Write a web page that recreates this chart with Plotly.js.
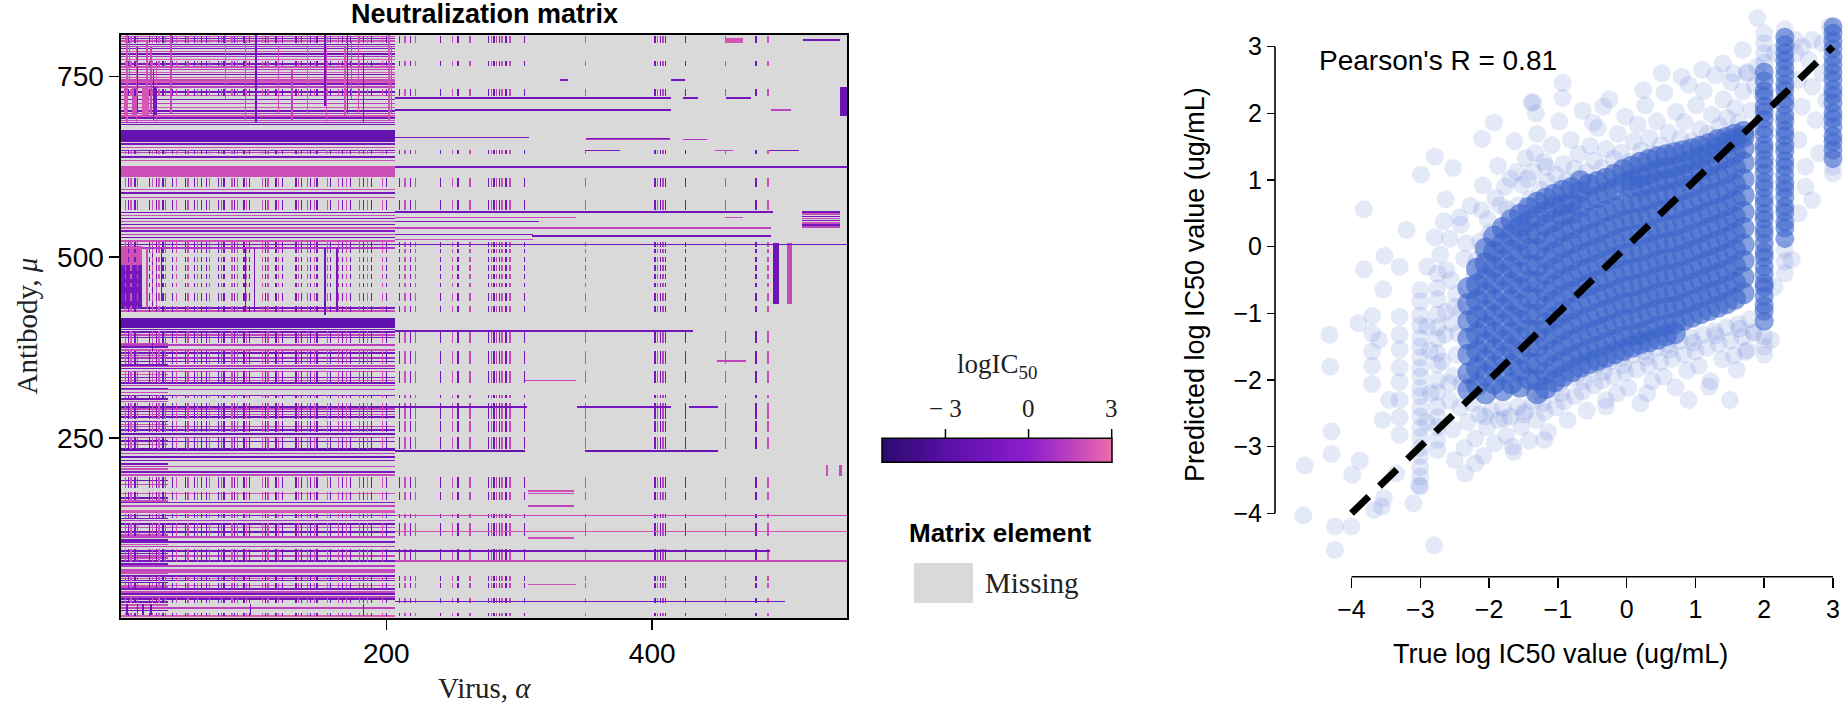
<!DOCTYPE html>
<html><head><meta charset="utf-8">
<script src="https://cdn.plot.ly/plotly-3.0.1.min.js"></script>
<style>html,body{margin:0;padding:0;background:#fff}#chart{width:1847px;height:707px}</style>
</head><body><div id="chart"></div>
<script>
// ---------------- Neutralization matrix (antibody x virus) ----------------
const nVirus = 546;
const nAntibody = 807;
const panelEnd = 206;   // viruses measured against the full antibody panel
const leftEnd = 35;     // early viruses with denser coverage
const logIC50Min = -5.3, logIC50Max = 3.0;
const colorTicks = [-3, 0, 3];
const colorTickText = ['\u2212 3', '0', '3'];
const virusTicks = [200, 400];
const antibodyTicks = [250, 500, 750];

// thick bands across the panel: [antibodyFrom, antibodyTo, logIC50]
const panelBands = [[403,415,-2.6],[660,676,-2.3],[612,626,2.0],[63,68,1.8],[232,236,-2.4]];
// single antibodies measured across the panel: [antibody, logIC50]
const panelLines = [[805,2.2],[802,-1.2],[799,2.0],[794,-1.5],[791,1.5],[788,-1.0],[784,2.2],[781,-1.8],[777,1.0],[773,2.4],[767,-1.2],[763,2.0],[759,1.2],[755,2.3],[752,-1.5],[748,2.2],[745,1.8],[742,2.4],[739,-0.8],[735,1.5],[728,-1.6],[723,2.0],[718,-1.2],[712,1.6],[707,2.2],[702,-1.8],[698,1.0],[695,2.2],[692,-1.4],[689,1.8],[686,0.5],[683,-1.6],
[656,-1.2],[651,2.0],[647,-1.0],[644,1.5],[638,-1.5],[633,2.0],[593,2.0],[588,-1.5],[582,1.6],[561,-1.8],[557,2.0],[553,-1.2],[549,1.8],[545,-1.5],[540,2.2],[536,-0.8],[531,1.6],[527,-1.8],[522,2.0],[517,-1.5],[512,1.2],[429,-1.4],[425,1.8],
[399,-1.5],[396,-1.8],[392,1.6],[388,-1.0],[378,1.4],[371,2.0],[367,-1.4],[360,1.0],[355,-1.8],[349,1.6],[345,-1.2],[341,2.0],[333,-1.0],[329,2.2],[325,-1.6],[322,1.6],[316,1.0],[308,-1.2],[292,-2.0],[289,1.8],[286,-1.6],[282,2.2],[278,-1.8],[265,1.4],[260,-1.0],[255,-1.8],[250,1.6],[244,-1.0],[228,1.5],[223,-1.8],[218,-1.2],[210,1.6],[202,-1.0],[198,1.8],[172,2.2],[160,-1.0],[155,1.6],[149,2.4],[147,2.2],[142,-1.4],[135,1.2],[130,-1.6],[125,1.8],[119,-1.4],[112,1.6],[105,-1.2],[99,1.4],[93,-1.8],[86,1.6],[79,-1.4],[72,1.2],[58,-1.2],[55,2.0],[52,-1.4],[45,2.2],[40,-1.0],[36,1.8],[33,-1.6],[29,1.4],[26,-1.8],[14,1.6],[3,2.4]];
// extra antibodies for the early viruses only: [antibody, logIC50]
const leftLines = [[380,2.0],[375,-1.4],[363,1.8],[350,-1.2],[337,2.2],[318,-1.6],[312,1.8],[303,-1.2],[300,2.0],[272,-1.4],[268,2.0],[246,-1.6],[240,1.8],[213,-1.2],[206,2.0],[190,-1.6],[185,1.8],[166,-1.4],[162,2.0],[138,-1.2],[115,1.8],[108,-1.6],[102,2.0],[89,-1.4],[83,1.8],[75,-1.2],[62,2.0],[49,-1.6],[43,1.8],[22,-1.4],[18,2.0],[10,-1.2]];
// single viruses measured over a range of antibodies: [virus, antibodyFrom, antibodyTo, logIC50]
const panelVerticals = [[5,688,807,2.2],[7,740,800,2.0],[12,688,790,2.2],[13,700,790,-1.5],[20,695,800,2.0],[23,700,790,1.8],[25,690,760,-1.2],[27,688,770,2.2],[38,700,807,1.8],[79,720,807,2.2],[94,690,800,2.0],[102,688,807,-1.4],[119,700,790,2.0],[129,690,760,1.6],[141,700,807,2.2],[154,710,807,-1.6],[155,688,790,2.0],[169,695,790,2.2],[171,700,807,-1.4],[174,720,800,1.8],[179,700,807,2.0],[183,688,780,-1.6],[202,690,807,2.2],[204,700,790,1.8],
[94,425,512,-1.8],[101,425,512,-1.6],[154,420,512,-1.8],[163,425,512,-1.4],[20,430,512,2.0],[24,430,512,-1.4],[27,430,500,2.2],[31,440,512,-1.2],[4,430,489,2.0],[9,430,489,2.2],
[5,5,19,-2.0],[13,5,19,-2.0],[17,5,19,-1.8],[23,5,19,-2.0],[98,5,19,-1.8],[183,5,19,-1.8],[24,355,385,-1.8]];
// rectangular blocks: [antibodyFrom, antibodyTo, virusFrom, virusTo, logIC50]
const blocks = [[697,735,3,5,2.2],[697,735,9,12,2.0],[697,735,17,21,2.3],[697,735,25,27,-1.3],
[490,515,1,16,2.1],[430,489,1,16,-1.3],
[696,735,542,546,-2.0],[436,519,491,495,-1.8],[436,519,502,505,1.8],[197,212,531,532,2.0],[197,212,541,542,1.8],[797,803,455,468,2.2],[800,802,514,541,-1.4]];
// antibody ranges assayed only against a spot-check subset of viruses
const stripeBands = [[797,806],[765,771],[724,732],[643,648],[598,609],[566,579],[515,521],[506,511],[494,500],[482,488],[470,476],[459,464],[440,450],[425,432],[381,397],[353,370],[326,342],[306,309],[276,297],[258,272],[235,250],[181,195],[165,174],[140,144],[114,132],[79,95],[52,58],[43,48],[22,27],[4,7]];
// spot-check viruses: [virus, logIC50]
const stripeViruses = [[4,2.0],[6,-1.5],[8,2.2],[11,-1.2],[13,1.8],[22,-1.6],[24,2.0],[27,-1.4],[29,2.2],[32,-1.8],[34,1.6],[39,-1.5],[42,2.0],[49,-1.6],[51,1.8],[56,-1.4],[58,2.2],[61,-1.2],[65,-1.8],[67,2.0],[74,-1.5],[76,1.6],[78,-1.8],[84,2.0],[86,-1.4],[88,1.8],[93,-1.6],[95,2.2],[97,-1.2],[107,2.0],[109,-1.6],[111,1.8],[117,-1.4],[119,2.2],[122,-1.8],[132,-1.5],[134,2.0],[136,-1.2],[141,1.8],[143,-1.6],[146,2.0],[148,-1.4],[156,2.2],[158,-1.6],[164,1.8],[167,-1.5],[170,2.0],[173,-1.8],[180,1.6],[183,-1.4],[186,2.2],[189,-1.6],[197,2.0],[200,-1.5],
[210,-1.4],[214,2.0],[218,-1.2],[222,1.8],[241,-1.6],[250,2.0],[254,-1.4],[263,1.8],[277,-1.5],[279,2.2],[281,-1.8],[283,1.6],[285,-1.2],[287,2.0],[290,-1.6],[293,1.8],[304,-1.4],[350,2.0],[402,-1.5],[404,2.2],[406,-1.8],[408,1.6],[410,-1.2],[425,-1.8],[455,1.8],[478,-1.4],[487,2.0]];
// antibodies measured across the later viruses: [antibody, virusFrom, virusTo, logIC50]
const longLines = [[720,207,414,-1.6],[720,424,434,-1.4],[720,456,474,-1.2],[703,207,414,-1.8],[703,490,504,1.6],[665,207,307,-1.2],[662,351,413,1.4],[664,351,413,-1.4],[662,424,441,1.2],[647,350,375,-1.2],[647,448,460,1.6],[647,488,510,-1.4],[745,331,336,-1.0],[745,415,424,-1.4],
[624,207,546,-1.4],[562,207,490,-1.6],[554,207,342,1.8],[554,455,468,2.0],[549,207,314,-1.4],[540,207,489,1.6],[531,207,310,-1.2],[529,310,489,-1.6],[524,207,310,1.8],[517,207,546,-1.5],
[562,513,541,-1.6],[559,513,541,2.0],[556,513,541,-1.4],[553,513,541,1.8],[550,513,541,-1.2],[547,513,541,2.0],[544,513,541,-1.5],[541,513,541,1.6],
[397,207,430,-1.4],[356,449,470,1.6],[329,305,342,1.8],[292,207,305,-1.6],[292,344,414,-1.4],[292,428,449,-1.2],[231,207,304,-2.2],[231,350,449,-2.0],
[176,307,341,2.0],[172,307,341,1.8],[155,307,341,1.6],[142,207,546,1.8],[120,207,546,2.2],[111,307,341,2.0],[93,207,488,-1.6],[79,207,546,1.8],[46,307,342,2.0],[23,207,499,-1.4]];

// ---------------- Prediction scatter ----------------
const xTicks = [-4,-3,-2,-1,0,1,2,3];
const yTicks = [-4,-3,-2,-1,0,1,2,3];
const identityLine = [-4, 3];
const pearsonR = 0.81;
// dense core: true value and the predicted values stacked at it
const coreTrue = [-2.3,-2.175,-2.05,-1.925,-1.8,-1.675,-1.55,-1.425,-1.3,-1.175,-1.05,-0.925,-0.8,-0.675,-0.55,-0.425,-0.3,-0.175,-0.05,0.075,0.2,0.325,0.45,0.575,0.7,0.825,0.95,1.075,1.2,1.325,1.45,1.575,1.7];
const corePred = [
[-2.15,-1.9,-1.62,-1.38,-1.12,-0.86,-0.62],
[-2.08,-1.82,-1.57,-1.31,-1.06,-0.8,-0.57,-0.33],
[-2.2,-1.93,-1.7,-1.44,-1.2,-0.96,-0.7,-0.47,-0.25,-0.03],
[-2.05,-1.8,-1.54,-1.29,-1.04,-0.8,-0.55,-0.31,-0.08,0.15],
[-2.15,-1.9,-1.66,-1.41,-1.17,-0.92,-0.68,-0.43,-0.2,0.05,0.28],
[-2.05,-1.78,-1.53,-1.29,-1.04,-0.8,-0.55,-0.31,-0.06,0.18,0.4],
[-2.1,-1.86,-1.6,-1.37,-1.11,-0.88,-0.62,-0.39,-0.13,0.1,0.3,0.48],
[-1.98,-1.75,-1.5,-1.25,-1.01,-0.76,-0.52,-0.27,-0.03,0.2,0.38,0.58],
[-2.2,-2.0,-1.76,-1.5,-1.27,-1.02,-0.78,-0.53,-0.29,-0.04,0.2,0.45,0.66],
[-2.12,-1.9,-1.64,-1.39,-1.15,-0.9,-0.66,-0.41,-0.17,0.08,0.32,0.52,0.72],
[-2.02,-1.8,-1.56,-1.31,-1.07,-0.82,-0.58,-0.33,-0.09,0.15,0.38,0.6,0.78],
[-1.94,-1.72,-1.48,-1.23,-0.99,-0.74,-0.5,-0.25,-0.01,0.24,0.46,0.63,0.84],
[-1.87,-1.65,-1.41,-1.16,-0.93,-0.68,-0.44,-0.2,0.05,0.28,0.5,0.66,0.88],
[-1.8,-1.6,-1.35,-1.11,-0.86,-0.62,-0.37,-0.13,0.11,0.36,0.6,0.82,0.98],
[-1.75,-1.55,-1.3,-1.06,-0.81,-0.57,-0.33,-0.08,0.17,0.42,0.7,0.93],
[-1.7,-1.5,-1.25,-1.01,-0.76,-0.52,-0.27,-0.02,0.22,0.47,0.74,0.97],
[-1.65,-1.45,-1.2,-0.96,-0.71,-0.47,-0.22,0.03,0.28,0.53,0.8,1.02],
[-1.6,-1.4,-1.16,-0.91,-0.67,-0.42,-0.17,0.08,0.33,0.58,0.86,1.08],
[-1.55,-1.35,-1.1,-0.86,-0.61,-0.36,-0.12,0.13,0.38,0.63,0.95,1.15],
[-1.5,-1.33,-1.08,-0.84,-0.59,-0.34,-0.09,0.16,0.41,0.66,0.9,1.0,1.2],
[-1.45,-1.3,-1.05,-0.8,-0.56,-0.31,-0.07,0.18,0.43,0.67,0.9,1.05,1.26],
[-1.42,-1.25,-1.0,-0.76,-0.51,-0.27,-0.02,0.22,0.47,0.71,0.94,1.1,1.3],
[-1.38,-1.2,-0.95,-0.71,-0.46,-0.22,0.03,0.27,0.52,0.76,0.98,1.15,1.34],
[-1.33,-1.17,-0.92,-0.68,-0.43,-0.19,0.06,0.3,0.55,0.79,1.0,1.18,1.37],
[-1.3,-1.15,-0.9,-0.66,-0.41,-0.17,0.08,0.32,0.57,0.81,1.03,1.2,1.4],
[-1.1,-0.86,-0.61,-0.37,-0.12,0.12,0.37,0.61,0.86,1.08,1.25,1.43],
[-1.05,-0.81,-0.56,-0.32,-0.07,0.17,0.42,0.66,0.91,1.12,1.3,1.46],
[-1.0,-0.76,-0.51,-0.27,-0.02,0.22,0.47,0.71,0.96,1.17,1.35,1.5],
[-0.95,-0.7,-0.46,-0.21,0.03,0.28,0.52,0.77,1.01,1.22,1.4,1.54],
[-0.9,-0.66,-0.41,-0.17,0.08,0.32,0.57,0.81,1.06,1.28,1.48,1.6],
[-0.85,-0.6,-0.36,-0.11,0.13,0.38,0.62,0.87,1.11,1.34,1.55,1.63],
[-0.78,-0.54,-0.29,-0.05,0.2,0.44,0.69,0.93,1.18,1.4,1.6,1.68],
[-0.7,-0.46,-0.21,0.03,0.28,0.52,0.77,1.01,1.26,1.48,1.65,1.72]];
// censored true values (vertical stacks)
const stackTrue = [2.0, 2.3, 3.0];
const stackPred = [
[-1.12,-0.97,-0.88,-0.74,-0.61,-0.55,-0.41,-0.3,-0.16,-0.08,0.05,0.19,0.27,0.41,0.5,0.64,0.73,0.88,0.97,1.1,1.22,1.31,1.45,1.53,1.68,1.77,1.91,2.02,2.11,2.26,2.34,2.49,2.62],
[0.12,0.28,0.37,0.52,0.6,0.74,0.86,0.95,1.08,1.2,1.29,1.43,1.52,1.66,1.75,1.88,1.97,2.12,2.21,2.35,2.44,2.57,2.68,2.8,2.91,3.03,3.14],
[1.32,1.45,1.57,1.66,1.8,1.92,2.01,2.15,2.27,2.36,2.5,2.61,2.73,2.84,2.97,3.08,3.2,3.3]];
// lighter, spread-out points: [true, predicted]
const spreadPts = [
[-3.0,-0.65],[-3.0,-0.82],[-3.0,-1.03],[-3.0,-1.18],[-3.0,-1.37],[-3.0,-1.5],[-3.0,-1.66],[-3.0,-1.82],[-3.0,-1.95],[-3.0,-2.12],[-3.0,-2.24],[-3.0,-2.41],[-3.0,-2.55],[-3.0,-2.72],[-3.0,-2.86],[-3.0,-3.02],[-3.0,-3.14],[-3.0,-3.31],[-3.0,-3.45],[-3.0,-3.6],
[-2.75,-0.4],[-2.75,-0.62],[-2.75,-0.79],[-2.75,-1.02],[-2.75,-1.21],[-2.75,-1.38],[-2.75,-1.6],[-2.75,-1.77],[-2.75,-2.01],[-2.75,-2.18],[-2.75,-2.4],[-2.75,-2.56],[-2.75,-2.71],[-2.75,-2.9],[-2.75,-3.05],
[-3.3,-1.05],[-3.3,-1.32],[-3.3,-1.54],[-3.3,-1.81],[-3.3,-2.03],[-3.3,-2.3],[-3.3,-2.56],[-3.3,-2.82],
[-3.7,-1.04],[-3.7,-1.3],[-3.7,-1.57],[-3.7,-1.79],[-3.7,-2.06],
[-3.82,0.56],[-3.82,-0.34],[-3.54,-0.64],[-3.52,-0.14],[-3.9,-1.15],[-4.32,-1.32],[-4.31,-1.8],[-4.29,-2.77],[-4.29,-3.11],[-4.68,-3.28],[-4.7,-4.03],[-4.24,-4.2],[-4.0,-4.2],[-4.24,-4.55],[-3.99,-3.42],[-3.88,-3.21],[-3.67,-3.95],[-3.53,-3.77],[-3.56,-3.9],[-3.02,-3.58],[-2.8,-4.48],[-1.66,-3.0],[-2.99,1.08],[-2.79,1.35],[-2.63,0.71],[-2.52,1.18],[-2.43,0.44],[-2.79,0.14],[-3.2,0.25],[-3.3,-0.3],[-2.1,1.62],[-1.93,1.86],[-1.38,2.16],[-1.32,2.0],[-0.93,2.46],[-0.93,2.23],[-1.36,2.17],[-0.49,1.86],[0.51,2.6],[0.24,2.35],[-0.34,2.1],[1.9,3.43],[1.69,2.95],[-3.45,-2.3],[-3.55,-2.6],[-3.6,-1.4],[-2.5,-3.2],[-2.35,-3.4],[-2.2,-3.25],[-3.1,-3.85],[-3.35,-3.4],[-1.2,-2.9],[0.3,-2.2],[-0.3,-2.4],[1.5,-2.3],[1.2,-2.1],[0.9,-2.3],
[-2.5,-0.9],[-2.55,-0.5],[-2.45,-1.3],[-2.9,-0.3],[-2.9,-1.2],[-2.85,-2.2],[-2.68,-1.72],[-2.57,-2.31],[-2.86,-1.56],[-2.63,-0.98],[-2.91,-2.63],[-2.52,-1.94],
[-2.62,-0.35],[-2.57,0.12],[-2.48,-0.71],[-2.41,0.33],[-2.36,-0.18],[-2.27,0.61],[-2.22,-0.44],[-2.13,0.08],[-2.09,0.92],[-2.02,0.41],[-1.96,-0.05],[-1.91,0.73],[-1.87,1.21],[-1.8,0.27],[-1.74,0.56],[-1.69,1.02],[-1.63,1.58],[-1.58,0.62],[-1.52,0.93],[-1.47,1.33],[-1.41,0.71],[-1.36,1.12],[-1.3,1.69],[-1.26,0.86],[-1.2,1.27],[-1.15,0.97],[-1.09,1.52],[-1.03,1.08],[-0.98,1.88],[-0.92,1.24],[-0.87,0.99],[-0.81,1.6],[-0.76,1.17],[-0.7,1.39],[-0.64,2.04],[-0.59,1.12],[-0.53,1.51],[-0.47,1.29],[-0.42,1.78],[-0.36,1.18],[-0.3,1.46],[-0.25,2.21],[-0.19,1.32],[-0.13,1.69],[-0.08,1.41],[-0.02,1.95],[0.04,1.27],[0.1,1.58],[0.16,1.83],[0.21,1.44],[0.27,2.12],[0.33,1.63],[0.38,1.39],[0.44,1.88],[0.5,1.52],[0.55,2.31],[0.61,1.71],[0.67,1.46],[0.72,2.02],[0.78,1.62],[0.84,1.87],[0.9,2.43],[0.95,1.58],[1.01,2.12],[1.07,1.76],[1.12,2.34],[1.18,1.69],[1.24,1.98],[1.29,2.57],[1.35,1.81],[1.41,2.21],[1.46,1.93],[1.52,2.47],[1.58,2.08],[1.63,1.86],[1.69,2.33],[1.75,2.62],[1.81,2.04],[1.86,2.41],
[-2.64,-1.32],[-2.58,-2.05],[-2.53,-2.74],[-2.47,-1.62],[-2.42,-2.41],[-2.36,-3.02],[-2.31,-2.63],[-2.25,-1.98],[-2.2,-2.88],[-2.14,-2.52],[-2.08,-3.14],[-2.03,-2.71],[-1.97,-2.46],[-1.92,-2.95],[-1.86,-2.6],[-1.8,-2.42],[-1.75,-2.84],[-1.69,-2.55],[-1.64,-3.08],[-1.58,-2.4],[-1.53,-2.7],[-1.47,-2.47],[-1.42,-2.91],[-1.36,-2.33],[-1.31,-2.6],[-1.25,-2.2],[-1.19,-2.48],[-1.14,-2.78],[-1.08,-2.15],[-1.03,-2.41],[-0.97,-2.05],[-0.91,-2.32],[-0.86,-2.6],[-0.8,-1.97],[-0.75,-2.24],[-0.69,-1.9],[-0.64,-2.17],[-0.58,-2.46],[-0.53,-1.83],[-0.47,-2.08],[-0.41,-1.77],[-0.36,-2.01],[-0.3,-2.3],[-0.25,-1.72],[-0.19,-1.95],[-0.14,-2.2],[-0.08,-1.66],[-0.02,-1.89],[0.03,-2.12],[0.09,-1.62],[0.15,-1.84],[0.2,-2.35],[0.26,-1.57],[0.32,-1.78],[0.37,-2.02],[0.43,-1.52],[0.49,-1.73],[0.54,-1.95],[0.6,-1.47],[0.66,-1.68],[0.71,-2.11],[0.77,-1.42],[0.83,-1.62],[0.88,-1.86],[0.94,-1.37],[1.0,-1.57],[1.05,-1.79],[1.11,-1.32],[1.17,-1.52],[1.22,-2.02],[1.28,-1.27],[1.34,-1.46],[1.39,-1.69],[1.45,-1.21],[1.51,-1.41],[1.56,-1.63],[1.62,-1.16],[1.68,-1.35],[1.73,-1.58],[1.79,-1.09],[1.85,-1.28],
[-2.71,-0.12],[-2.66,0.38],[-2.54,-1.15],[-2.39,-0.95],[-2.33,0.05],[-2.18,-0.2],[-2.11,0.55],[-1.99,0.2],[-1.84,0.62],[-1.77,0.9],[-1.6,1.12],[-1.44,1.02],[-1.33,1.4],[-1.17,1.2],
[-2.4,-2.05],[-2.24,-2.35],[-2.06,-2.55],[-1.78,-2.58],[-1.5,-2.52],[-1.22,-2.35],[-0.95,-2.2],[-0.62,-2.02],[-0.33,-1.88],[-0.05,-1.78],[0.28,-1.66],[0.62,-1.55],[0.97,-1.44],[1.3,-1.33],[1.64,-1.23],
[2.15,2.9],[2.15,-0.6],[2.1,-1.4],[2.0,-1.35],[2.0,-1.5],[2.0,-1.62],[2.0,2.76],[2.0,2.9],[2.0,3.05],[2.0,3.2],[2.3,-0.05],[2.3,-0.22],[2.3,-0.4],[2.3,3.26],[2.45,2.9],[2.5,2.5],[2.55,2.1],[2.5,1.6],[2.6,1.2],[2.65,2.8],[2.7,2.4],[2.75,1.9],[2.8,1.4],[2.85,2.6],[2.9,2.2],[2.4,-0.2],[2.6,0.9],[2.95,3.3],[3.0,1.1],[3.0,1.2],[2.45,3.1],[2.55,3.0],[2.7,3.1],[2.85,3.05],[2.5,0.5],[2.7,0.7],[1.85,-1.3],[1.75,-1.55],[1.6,-1.85],[1.9,2.7],[1.75,2.6],[1.55,2.6],[1.4,2.75],[1.1,2.65],[0.8,2.55]];

// ---------------- build the matrix ----------------
const z = [];
for (let a = 0; a < nAntibody; a++) z.push(new Array(nVirus).fill(null));
function fill(a0, a1, v0, v1, val) {
  for (let a = Math.max(1, a0); a <= Math.min(nAntibody, a1); a++)
    for (let v = Math.max(1, v0); v <= Math.min(nVirus, v1); v++) z[a - 1][v - 1] = val;
}
panelBands.forEach(([a0, a1, val]) => fill(a0, a1, 1, panelEnd, val));
panelLines.forEach(([a, val]) => fill(a, a + 1, 1, panelEnd, val));
leftLines.forEach(([a, val]) => fill(a, a + 1, 1, leftEnd, val));
panelVerticals.forEach(([v, a0, a1, val]) => fill(a0, a1, v, v, val));
blocks.forEach(([a0, a1, v0, v1, val]) => fill(a0, a1, v0, v1, val));
stripeBands.forEach(([a0, a1]) => stripeViruses.forEach(([v, val]) => fill(a0, a1, v, v, val)));
longLines.forEach(([a, v0, v1, val]) => fill(a, a + 1, v0, v1, val));

const coreX = [], coreY = [];
coreTrue.forEach((t, i) => corePred[i].forEach(p => { coreX.push(t); coreY.push(p); }));
const stackX = [], stackY = [];
stackTrue.forEach((t, i) => stackPred[i].forEach(p => { stackX.push(t); stackY.push(p); }));
const spreadX = spreadPts.map(p => p[0]), spreadY = spreadPts.map(p => p[1]);

// ---------------- geometry (pixels of the 1847x707 figure) ----------------
const W = 1847, H = 707;
const px = v => v / W, py = v => 1 - v / H;
const cb = {left: 881.7, len: 230, top: 439, bottom: 463};
const cbPos = v => cb.left + (v - logIC50Min) / (logIC50Max - logIC50Min) * cb.len;

const blue = 'rgb(62,102,204)';
const sans = 'Liberation Sans, Arial, sans-serif';
const serif = 'Liberation Serif, Times New Roman, serif';
const colorscale = [[0,'#2a0a6c'],[0.3,'#5c10aa'],[0.55,'#8019c6'],[0.64,'#8d1ecc'],[0.82,'#bb40be'],[1,'#ef6cab']];

const traces = [
  {type: 'heatmap', z: z, x0: 1, dx: 1, y0: 1, dy: 1, xaxis: 'x', yaxis: 'y',
   zmin: logIC50Min, zmax: logIC50Max, colorscale: colorscale, hoverinfo: 'skip',
   colorbar: {orientation: 'h', x: px(cb.left + cb.len / 2), xanchor: 'center', y: py((cb.top + cb.bottom) / 2), yanchor: 'middle',
              len: cb.len, lenmode: 'pixels', thickness: cb.bottom - cb.top, thicknessmode: 'pixels',
              xpad: 0, ypad: 0, outlinewidth: 1.5, outlinecolor: '#000', ticks: '', showticklabels: false}},
  {type: 'scatter', mode: 'markers', x: spreadX, y: spreadY, xaxis: 'x2', yaxis: 'y2', cliponaxis: false,
   marker: {size: 18, color: blue, opacity: 0.14, line: {width: 0}}, hoverinfo: 'skip'},
  {type: 'scatter', mode: 'markers', x: coreX, y: coreY, xaxis: 'x2', yaxis: 'y2', cliponaxis: false,
   marker: {size: 22, color: blue, opacity: 0.62, line: {width: 0}}, hoverinfo: 'skip'},
  {type: 'scatter', mode: 'markers', x: stackX, y: stackY, xaxis: 'x2', yaxis: 'y2', cliponaxis: false,
   marker: {size: 19, color: blue, opacity: 0.6, line: {width: 0}}, hoverinfo: 'skip'},
  {type: 'scatter', mode: 'lines', x: identityLine, y: identityLine, xaxis: 'x2', yaxis: 'y2', cliponaxis: false,
   line: {color: '#000', width: 7, dash: '24px,15px'}, hoverinfo: 'skip'}
];

const hm = {left: 121, right: 847, top: 35, bottom: 618};
const sc = {left: 1285, right: 1847, top: 15, bottom: 565, yAxisX: 1275, xAxisY: 576.7};
const axisCommon = {showgrid: false, zeroline: false, ticks: 'outside', tickwidth: 1.5, tickcolor: '#000',
                    tickfont: {family: sans, size: 28, color: '#000'}, fixedrange: true};

const layout = {
  width: W, height: H, margin: {l: 0, r: 0, t: 0, b: 0, autoexpand: false},
  paper_bgcolor: '#fff', plot_bgcolor: 'rgba(0,0,0,0)', showlegend: false,
  xaxis: Object.assign({}, axisCommon, {domain: [px(hm.left), px(hm.right)], range: [0.5, nVirus + 0.5], anchor: 'y',
         tickvals: virusTicks, ticklen: 10, showline: true, mirror: true, linecolor: '#000', linewidth: 1.6}),
  yaxis: Object.assign({}, axisCommon, {domain: [py(hm.bottom), py(hm.top)], range: [0.5, nAntibody + 0.5], anchor: 'x',
         tickvals: antibodyTicks, ticklen: 10, showline: true, mirror: true, linecolor: '#000', linewidth: 1.6}),
  xaxis2: Object.assign({}, axisCommon, {domain: [px(sc.left), px(sc.right)], range: [-4.967, 3.204], anchor: 'free', position: py(sc.xAxisY),
         tickvals: xTicks, ticklen: 10, showline: false, tickfont: {family: sans, size: 25, color: '#000'}}),
  yaxis2: Object.assign({}, axisCommon, {domain: [py(sc.bottom), py(sc.top)], range: [-4.776, 3.475], anchor: 'free', position: px(sc.yAxisX),
         tickvals: yTicks, ticklen: 8, showline: false, tickfont: {family: sans, size: 25, color: '#000'}}),
  shapes: [
    {type: 'rect', xref: 'x', yref: 'y', x0: 0.5, x1: nVirus + 0.5, y0: 0.5, y1: nAntibody + 0.5, fillcolor: '#d9d9d9', line: {width: 0}, layer: 'below'},
    {type: 'line', xref: 'x2', yref: 'paper', x0: xTicks[0], x1: xTicks[xTicks.length - 1], y0: py(sc.xAxisY), y1: py(sc.xAxisY), line: {color: '#000', width: 1.6}},
    {type: 'line', xref: 'paper', yref: 'y2', x0: px(sc.yAxisX), x1: px(sc.yAxisX), y0: yTicks[0], y1: yTicks[yTicks.length - 1], line: {color: '#000', width: 1.6}},
    {type: 'rect', xref: 'paper', yref: 'paper', x0: px(914), x1: px(973), y0: py(603), y1: py(563), fillcolor: '#d9d9d9', line: {width: 0}}
  ].concat(colorTicks.map(v => ({type: 'line', xref: 'paper', yref: 'paper', x0: px(cbPos(v)), x1: px(cbPos(v)),
          y0: py(cb.top), y1: py(cb.top - 10), line: {color: '#000', width: 1.5}}))),
  annotations: [
    {text: '<b>Neutralization matrix</b>', x: px((hm.left + hm.right) / 2), y: py(14), xref: 'paper', yref: 'paper', showarrow: false, xanchor: 'center', yanchor: 'middle', font: {family: sans, size: 27, color: '#000'}},
    {text: 'Virus, <i>\u03b1</i>', x: px((hm.left + hm.right) / 2), y: py(688), xref: 'paper', yref: 'paper', showarrow: false, xanchor: 'center', yanchor: 'middle', font: {family: serif, size: 29, color: '#222'}},
    {text: 'Antibody, <i>\u03bc</i>', x: px(26), y: py((hm.top + hm.bottom) / 2), xref: 'paper', yref: 'paper', showarrow: false, textangle: -90, xanchor: 'center', yanchor: 'middle', font: {family: serif, size: 29, color: '#222'}},
    {text: 'logIC<sub>50</sub>', x: px(cb.left + cb.len / 2), y: py(366), xref: 'paper', yref: 'paper', showarrow: false, xanchor: 'center', yanchor: 'middle', font: {family: serif, size: 27, color: '#222'}},
    {text: '<b>Matrix element</b>', x: px(1000), y: py(533), xref: 'paper', yref: 'paper', showarrow: false, xanchor: 'center', yanchor: 'middle', font: {family: sans, size: 26, color: '#000'}},
    {text: 'Missing', x: px(983), y: py(583), xref: 'paper', yref: 'paper', showarrow: false, xanchor: 'left', yanchor: 'middle', font: {family: serif, size: 29, color: '#222'}},
    {text: "Pearson's R = " + pearsonR.toFixed(2), x: px(1317), y: py(61), xref: 'paper', yref: 'paper', showarrow: false, xanchor: 'left', yanchor: 'middle', font: {family: sans, size: 28, color: '#000'}},
    {text: 'True log IC50 value (ug/mL)', x: px(1560), y: py(654), xref: 'paper', yref: 'paper', showarrow: false, xanchor: 'center', yanchor: 'middle', font: {family: sans, size: 27, color: '#000'}},
    {text: 'Predicted log IC50 value (ug/mL)', x: px(1195), y: py(285), xref: 'paper', yref: 'paper', showarrow: false, textangle: -90, xanchor: 'center', yanchor: 'middle', font: {family: sans, size: 27, color: '#000'}}
  ].concat(colorTicks.map((v, i) => ({text: colorTickText[i], x: px(cbPos(v)), y: py(408), xref: 'paper', yref: 'paper', showarrow: false,
          xanchor: 'center', yanchor: 'middle', font: {family: serif, size: 25, color: '#222'}})))
};

Plotly.newPlot('chart', traces, layout, {displayModeBar: false, staticPlot: true});
</script></body></html>
